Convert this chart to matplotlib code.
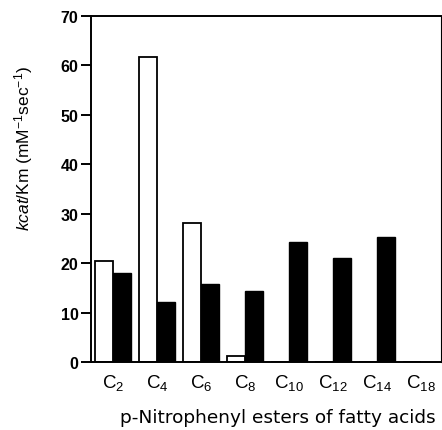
import matplotlib.pyplot as plt
import numpy as np

# data
categories = ['C$_{2}$', 'C$_{4}$', 'C$_{6}$', 'C$_{8}$', 'C$_{10}$', 'C$_{12}$', 'C$_{14}$', 'C$_{18}$']
open_vals = [20.5, 61.8, 28.1, 1.2, 0, 0, 0, 0]
filled_vals = [18.0, 12.1, 15.8, 14.4, 24.3, 21.1, 25.2, 0]
yticks = [0, 10, 20, 30, 40, 50, 60, 70]

plt.rcParams['font.family'] = ['Liberation Sans', 'DejaVu Sans']
plt.rcParams['mathtext.fontset'] = 'custom'
plt.rcParams['mathtext.rm'] = 'Liberation Sans'
plt.rcParams['mathtext.it'] = 'Liberation Sans:italic'

fig = plt.figure(figsize=(4.42, 4.31), dpi=100)
ax = fig.add_axes([0.2059, 0.1578, 0.7918, 0.8028])

x = np.arange(len(categories))
w = 0.41
ax.bar(x - w / 2, open_vals, w, color='white', edgecolor='black', linewidth=1.3)
ax.bar(x + w / 2, filled_vals, w, color='black', edgecolor='black', linewidth=1.0)

ax.set_xlim(-0.5, 7.45)
ax.set_ylim(0, 70)
ax.set_yticks(yticks)
ax.set_yticklabels([str(t) for t in yticks], fontsize=11.5, fontweight='bold')
ax.set_xticks(x)
ax.set_xticklabels(categories, fontsize=13.5)
ax.tick_params(axis='x', length=0, pad=7)
ax.tick_params(axis='y', length=7.5, width=1.4, pad=1.5)

for side in ['left', 'bottom', 'top']:
    ax.spines[side].set_linewidth(1.4)
ax.spines['right'].set_linewidth(0.8)

ax.set_xlabel('p-Nitrophenyl esters of fatty acids', fontsize=13.3, family='DejaVu Sans')
ax.xaxis.set_label_coords(0.533, -0.134)
ax.set_ylabel(r'$\it{kcat}$/Km (mM$^{-1}$sec$^{-1}$)', fontsize=12.5)
ax.yaxis.set_label_coords(-0.16, 0.62)

plt.savefig('out.png', dpi=100)
